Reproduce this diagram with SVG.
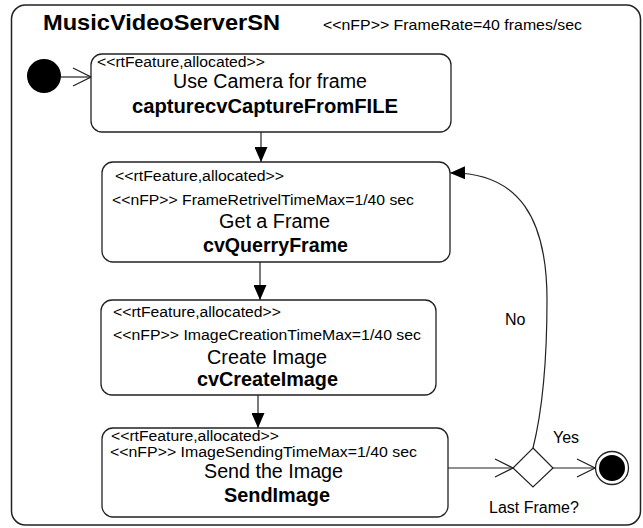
<svg xmlns="http://www.w3.org/2000/svg" width="643" height="528" viewBox="0 0 643 528">
<style>
text{font-family:"Liberation Sans",Arial,sans-serif;fill:#000}
.st{font-size:15.5px}
.mn{font-size:19.5px;text-anchor:middle}
.bd{font-size:19.5px;font-weight:bold;text-anchor:middle}
.box{fill:#fff;stroke:#222;stroke-width:1.3}
.ln{fill:none;stroke:#222;stroke-width:1.2}
.lb{font-size:16px}
</style>
<defs>
<marker id="filled" viewBox="0 0 15 13" refX="15" refY="6.5" markerWidth="15" markerHeight="13" markerUnits="userSpaceOnUse" orient="auto">
<path d="M0,0 L15,6.5 L0,13 Z" fill="#000"/>
</marker>
<marker id="open" viewBox="0 0 20 20" refX="19" refY="10" markerWidth="20" markerHeight="20" markerUnits="userSpaceOnUse" orient="auto">
<path d="M1,1 L19,10 L1,19" fill="none" stroke="#222" stroke-width="1.2"/>
</marker>
</defs>
<g id="frame">
<rect x="11.5" y="5" width="629" height="520" rx="14" ry="14" fill="#fff" stroke="#222" stroke-width="1.5"/>
<text x="43" y="30" font-size="22px" font-weight="bold" textLength="237" lengthAdjust="spacingAndGlyphs">MusicVideoServerSN</text>
<text x="323" y="30" font-size="14.5px" textLength="259" lengthAdjust="spacingAndGlyphs">&lt;&lt;nFP&gt;&gt; FrameRate=40 frames/sec</text>
</g>
<g id="connectors">
<line class="ln" x1="61" y1="77" x2="91" y2="77" marker-end="url(#open)"/>
<line class="ln" x1="261" y1="132" x2="261" y2="162" marker-end="url(#filled)"/>
<line class="ln" x1="260" y1="262" x2="260" y2="300" marker-end="url(#filled)"/>
<line class="ln" x1="258" y1="395" x2="258" y2="428" marker-end="url(#filled)"/>
<line class="ln" x1="448" y1="468" x2="513" y2="468" marker-end="url(#open)"/>
<line class="ln" x1="553" y1="468" x2="595" y2="468" marker-end="url(#open)"/>
<path class="ln" d="M533,448 C545,400 547,340 547,300 C547,220 520,172 450,173" marker-end="url(#filled)"/>
<text class="lb" x="505" y="325">No</text>
<text class="lb" x="553" y="443">Yes</text>
<text class="lb" x="489" y="513">Last Frame?</text>
</g>
<g id="initial">
<circle cx="44" cy="76" r="17" fill="#000"/>
</g>
<g id="useCamera">
<rect class="box" x="91" y="54" width="360" height="78" rx="11"/>
<text class="st" x="97" y="67" textLength="168" lengthAdjust="spacingAndGlyphs">&lt;&lt;rtFeature,allocated&gt;&gt;</text>
<text class="mn" x="270" y="88" textLength="194" lengthAdjust="spacingAndGlyphs">Use Camera for frame</text>
<text class="bd" x="265" y="113" textLength="266" lengthAdjust="spacingAndGlyphs">capturecvCaptureFromFILE</text>
</g>
<g id="getFrame">
<rect class="box" x="102" y="162" width="348" height="100" rx="11"/>
<text class="st" x="115" y="181" textLength="169" lengthAdjust="spacingAndGlyphs">&lt;&lt;rtFeature,allocated&gt;&gt;</text>
<text class="st" x="112" y="205" textLength="302" lengthAdjust="spacingAndGlyphs">&lt;&lt;nFP&gt;&gt; FrameRetrivelTimeMax=1/40 sec</text>
<text class="mn" x="274.5" y="228" textLength="111" lengthAdjust="spacingAndGlyphs">Get a Frame</text>
<text class="bd" x="275.5" y="252" textLength="145" lengthAdjust="spacingAndGlyphs">cvQuerryFrame</text>
</g>
<g id="createImage">
<rect class="box" x="101" y="300" width="335" height="95" rx="11"/>
<text class="st" x="113" y="317" textLength="168" lengthAdjust="spacingAndGlyphs">&lt;&lt;rtFeature,allocated&gt;&gt;</text>
<text class="st" x="113" y="340" textLength="308" lengthAdjust="spacingAndGlyphs">&lt;&lt;nFP&gt;&gt; ImageCreationTimeMax=1/40 sec</text>
<text class="mn" x="267" y="364" textLength="120" lengthAdjust="spacingAndGlyphs">Create Image</text>
<text class="bd" x="267.5" y="386" textLength="141" lengthAdjust="spacingAndGlyphs">cvCreateImage</text>
</g>
<g id="sendImage">
<rect class="box" x="102" y="428" width="346" height="89" rx="11"/>
<text class="st" x="111" y="441" textLength="168" lengthAdjust="spacingAndGlyphs">&lt;&lt;rtFeature,allocated&gt;&gt;</text>
<text class="st" x="110" y="457" textLength="307" lengthAdjust="spacingAndGlyphs">&lt;&lt;nFP&gt;&gt; ImageSendingTimeMax=1/40 sec</text>
<text class="mn" x="273.5" y="478" textLength="139" lengthAdjust="spacingAndGlyphs">Send the Image</text>
<text class="bd" x="277" y="502" textLength="106" lengthAdjust="spacingAndGlyphs">SendImage</text>
</g>
<g id="decision">
<polygon points="533,448 553,468 533,487 513,468" fill="#fff" stroke="#222" stroke-width="1.2"/>
</g>
<g id="final">
<circle cx="612" cy="468" r="16.5" fill="#fff" stroke="#222" stroke-width="1.3"/>
<circle cx="612" cy="468" r="13" fill="#000"/>
</g>
</svg>
